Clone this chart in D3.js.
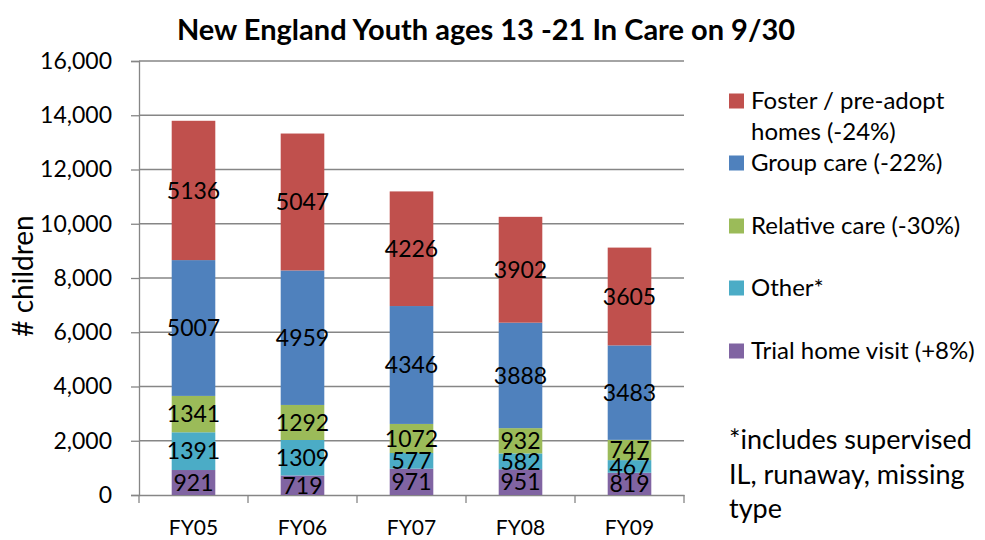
<!DOCTYPE html>
<html><head><meta charset="utf-8">
<script src="https://cdn.jsdelivr.net/npm/d3@7"></script>
<style>body{margin:0;background:#fff}text{font-family:Lato,"Open Sans",sans-serif}</style>
</head><body><svg id="c" width="985" height="540"></svg>
<script>
const categories = ["FY05","FY06","FY07","FY08","FY09"];
const seriesNames = ["Trial home visit (+8%)","Other*","Relative care (-30%)","Group care (-22%)","Foster / pre-adopt homes (-24%)"];
const trialHome = [921,719,971,951,819];
const other = [1391,1309,577,582,467];
const relative = [1341,1292,1072,932,747];
const group = [5007,4959,4346,3888,3483];
const foster = [5136,5047,4226,3902,3605];
const yTicks = [0,2000,4000,6000,8000,10000,12000,14000,16000];
const colors = ["#8064A2","#4BACC6","#9BBB59","#4F81BD","#C0504D"];

const seriesValues = [trialHome, other, relative, group, foster];
const rows = categories.map((c,i)=>{const r={cat:c}; seriesValues.forEach((s,k)=>r["s"+k]=s[i]); return r;});
const keys = seriesValues.map((s,k)=>"s"+k);
const stacked = d3.stack().keys(keys)(rows);

const svg = d3.select("#c");
const pLeft=139, pRight=684, pTop=61, pBottom=495;
const x = d3.scaleBand().domain(categories).range([pLeft,pRight]).paddingInner(0.6).paddingOuter(0.3);
const y = d3.scaleLinear().domain([0,16000]).range([pBottom,pTop]);

// gridlines
svg.append("g").selectAll("line").data(yTicks.filter(d=>d>0)).join("line")
  .attr("x1",pLeft).attr("x2",pRight).attr("y1",d=>y(d)).attr("y2",d=>y(d))
  .attr("stroke","#868686").attr("stroke-width",1.3);

// y axis
const ya = svg.append("g").attr("transform",`translate(${pLeft},0)`)
  .call(d3.axisLeft(y).tickValues(yTicks).tickSize(8).tickPadding(19).tickFormat(d3.format(",")));
ya.select(".domain").attr("stroke","#868686").attr("stroke-width",1.3);
ya.selectAll(".tick line").attr("stroke","#868686").attr("stroke-width",1.3);
ya.selectAll("text").attr("font-size",23).attr("fill","#000").attr("font-family","Lato");

// x axis
const xa = svg.append("g").attr("transform",`translate(0,${pBottom})`)
  .call(d3.axisBottom(x).tickSize(0));
xa.select(".domain").attr("stroke","#868686").attr("stroke-width",1.3);
xa.selectAll("text").attr("font-size",21).attr("fill","#000").attr("font-family","Lato")
  .attr("y",40).attr("dy",0);
const bandStep = x.step();
const boundaries = categories.map((c,i)=>x(c)-x.paddingInner()*bandStep/2).concat([pRight]);
svg.append("g").selectAll("line").data(boundaries).join("line")
  .attr("x1",d=>d).attr("x2",d=>d).attr("y1",pBottom).attr("y2",pBottom+8)
  .attr("stroke","#868686").attr("stroke-width",1.3);

// bars
const g = svg.append("g");
stacked.forEach((layer,k)=>{
  g.append("g").selectAll("rect").data(layer).join("rect")
    .attr("x",d=>x(d.data.cat)).attr("width",x.bandwidth())
    .attr("y",d=>y(d[1])).attr("height",d=>y(d[0])-y(d[1]))
    .attr("fill",colors[k]);
});
stacked.forEach((layer,k)=>{
  g.append("g").selectAll("text").data(layer).join("text")
    .attr("x",d=>x(d.data.cat)+x.bandwidth()/2)
    .attr("y",d=>(y(d[0])+y(d[1]))/2)
    .attr("dy","0.36em").attr("text-anchor","middle")
    .attr("font-size",23).attr("fill","#000")
    .text(d=>d[1]-d[0]);
});

// title
svg.append("text").attr("x",486).attr("y",40).attr("text-anchor","middle")
  .attr("font-size",29).attr("font-weight","bold").text("New England Youth ages 13 -21 In Care on 9/30");

// y title
svg.append("text").attr("transform","translate(33,276) rotate(-90)").attr("text-anchor","middle")
  .attr("font-size",28).text("# children");

// legend
const legendItems = [
  {k:4, lines:["Foster / pre-adopt","homes (-24%)"], y:101},
  {k:3, lines:["Group care (-22%)"], y:163},
  {k:2, lines:["Relative care (-30%)"], y:226},
  {k:1, lines:["Other*"], y:288},
  {k:0, lines:["Trial home visit (+8%)"], y:351}
];
const lg = svg.append("g");
legendItems.forEach(it=>{
  lg.append("rect").attr("x",729).attr("y",it.y-7.5).attr("width",15).attr("height",15).attr("fill",colors[it.k]);
  it.lines.forEach((l,i)=>{
    lg.append("text").attr("x",751).attr("y",it.y+i*31).attr("dy","0.35em").attr("font-size",24).text(l);
  });
});

// footnote
["*includes supervised","IL, runaway, missing","type"].forEach((l,i)=>{
  svg.append("text").attr("x",729).attr("y",440+i*34.5).attr("dy","0.35em").attr("font-size",27).text(l);
});
</script></body></html>
